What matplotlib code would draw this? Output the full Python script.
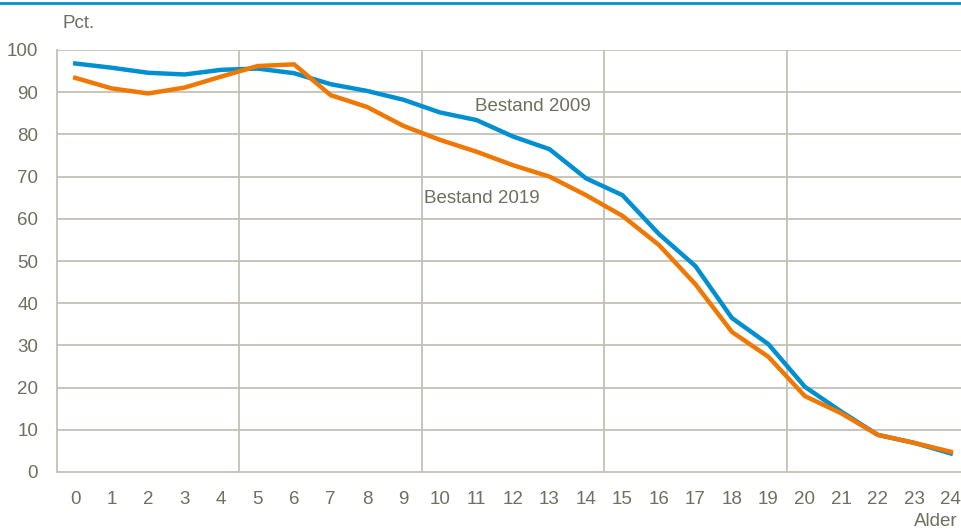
import matplotlib
matplotlib.use("Agg")
import matplotlib.pyplot as plt
from matplotlib.lines import Line2D

ages = list(range(25))
bestand_2009 = [96.8, 95.8, 94.6, 94.2, 95.3, 95.6, 94.5, 91.9, 90.3, 88.2,
                85.2, 83.4, 79.5, 76.5, 69.6, 65.6, 56.4, 48.8, 36.5, 30.3,
                20.2, 14.3, 8.8, 6.9, 4.4]
bestand_2019 = [93.4, 90.9, 89.7, 91.1, 93.7, 96.2, 96.6, 89.3, 86.5, 82.0,
                78.7, 75.9, 72.7, 70.0, 65.6, 60.7, 53.8, 44.5, 33.2, 27.3,
                18.0, 13.9, 8.8, 6.9, 4.8]
yticks = list(range(0, 101, 10))

plt.rcParams['font.family'] = ['Liberation Sans', 'DejaVu Sans']
txt = '#6f6e60'
grid = '#c4c2b6'
blue = '#0090d2'
orange = '#f07800'
fs = 13.5

fig = plt.figure(figsize=(9.61, 5.32), dpi=100)
W, H = 961, 532
ax = fig.add_axes([57 / W, 1 - 472 / H, (969 - 57) / W, (472 - 50) / H])
ax.set_xlim(-0.5, 24.5)
ax.set_ylim(0, 100)

for y in yticks[1:]:
    ax.axhline(y, color=grid, lw=1.3, zorder=1)
for x in [4.5, 9.5, 14.5, 19.5]:
    ax.axvline(x, color=grid, lw=1.3, zorder=1)

ax.plot(ages, bestand_2009, color=blue, lw=3.2, zorder=3, solid_joinstyle='round')
ax.plot(ages, bestand_2019, color=orange, lw=3.2, zorder=4, solid_joinstyle='round')

for s in ['top', 'right']:
    ax.spines[s].set_visible(False)
for s in ['left', 'bottom']:
    ax.spines[s].set_color(grid)
    ax.spines[s].set_linewidth(1.3)

ax.set_xticks(ages)
ax.set_yticks(yticks)
ax.tick_params(length=0, colors=txt, labelsize=fs)
ax.tick_params(axis='y', pad=13.5)
ax.tick_params(axis='x', pad=14)

ax.text(10.96, 86.7, 'Bestand 2009', color=txt, fontsize=fs, va='center', ha='left', zorder=5)
ax.text(9.56, 64.7, 'Bestand 2019', color=txt, fontsize=fs, va='center', ha='left', zorder=5)

fig.text(63 / W, 1 - 24 / H, 'Pct.', color=txt, fontsize=fs, va='center', ha='left')
fig.text(958 / W, 1 - 521 / H, 'Alder', color=txt, fontsize=fs, va='center', ha='right')

fig.add_artist(Line2D([0, 1], [1 - 3 / H, 1 - 3 / H], transform=fig.transFigure, color=blue, lw=2))

fig.savefig('out.png', dpi=100)
